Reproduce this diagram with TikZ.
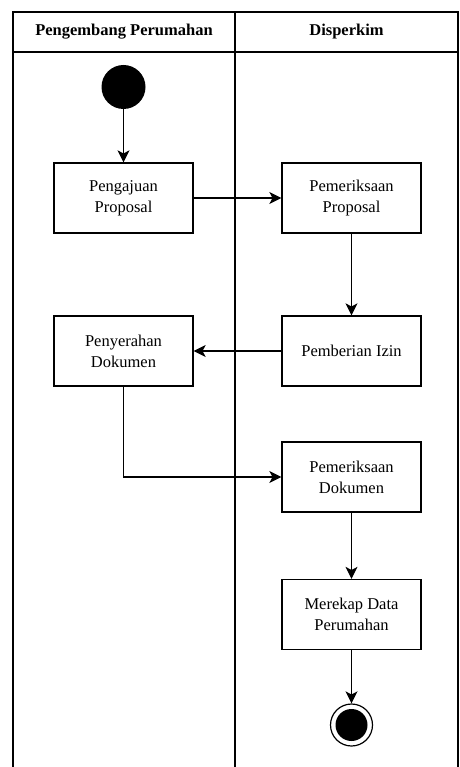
\documentclass[tikz,border=0pt]{standalone}
\usepackage{fontspec}
\setmainfont{Liberation Serif}
\usetikzlibrary{arrows.meta}

\begin{document}
\begin{tikzpicture}[
    x=1pt, y=-1pt,
    lane/.style={draw, line width=1.1pt},
    head/.style={font=\fontsize{16.5}{18}\selectfont\bfseries},
    act/.style={rectangle, draw, line width=1.2pt, minimum width=139pt, minimum height=70pt, text centered, align=center, font=\fontsize{16.5}{21}\selectfont},
    startdot/.style={circle, fill=black, minimum size=44pt, inner sep=0pt},
    endring/.style={circle, draw, line width=1.2pt, minimum size=42pt, inner sep=0pt},
    enddot/.style={circle, fill=black, minimum size=32pt, inner sep=0pt},
    arrow/.style={-{Stealth[length=12pt, width=12pt, inset=3pt]}, line width=1.2pt}
]
\useasboundingbox (0,0) rectangle (459,767);

% Swimlanes
\draw[lane] (13,767) -- (13,12) -- (458,12) -- (458,767);
\draw[lane] (13,52) -- (458,52);
\draw[lane] (235,12) -- (235,767);
\node[head] (laneA) at (124,32) {Pengembang Perumahan};
\node[head] (laneB) at (346.5,32) {Disperkim};

% Start
\node[startdot] (start) at (123.5,87) {};

% Activities
\node[act] (submit) at (123.5,198) {Pengajuan\\Proposal};
\node[act] (checkprop) at (351.5,198) {Pemeriksaan\\Proposal};
\node[act] (permit) at (351.5,351) {Pemberian Izin};
\node[act] (handover) at (123.5,351) {Penyerahan\\Dokumen};
\node[act] (checkdoc) at (351.5,477) {Pemeriksaan\\Dokumen};
\node[act] (recap) at (351.5,614.5) {Merekap Data\\Perumahan};

% End
\node[endring] (finish) at (351.5,725) {};
\node[enddot] (finishdot) at (finish) {};

% Flow
\draw[arrow] (start) -- (submit);
\draw[arrow] (submit) -- (checkprop);
\draw[arrow] (checkprop) -- (permit);
\draw[arrow] (permit) -- (handover);
\draw[arrow] (handover.south) |- (checkdoc.west);
\draw[arrow] (checkdoc) -- (recap);
\draw[arrow] (recap) -- (finish);

\end{tikzpicture}
\end{document}
